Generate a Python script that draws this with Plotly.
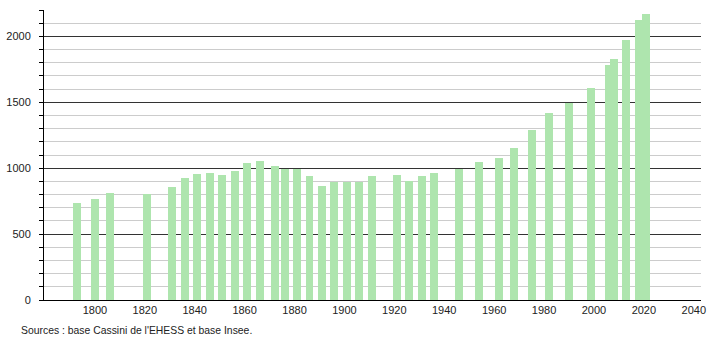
import plotly.graph_objects as go

years = [1793, 1800, 1806, 1821, 1831, 1836, 1841, 1846, 1851, 1856, 1861, 1866,
         1872, 1876, 1881, 1886, 1891, 1896, 1901, 1906, 1911, 1921, 1926, 1931,
         1936, 1946, 1954, 1962, 1968, 1975, 1982, 1990, 1999, 2006, 2008, 2013,
         2018, 2021]
population = [736, 769, 815, 807, 855, 929, 959, 967, 947, 975, 1041, 1051,
              1013, 997, 997, 937, 868, 893, 893, 893, 937, 947, 906, 937,
              967, 992, 1048, 1079, 1155, 1287, 1416, 1497, 1607, 1784, 1827, 1970,
              2124, 2168]
x_ticks = [1800, 1820, 1840, 1860, 1880, 1900, 1920, 1940, 1960, 1980, 2000, 2020, 2040]
y_ticks = [0, 500, 1000, 1500, 2000]
source_text = "Sources : base Cassini de l'EHESS et base Insee."

fig = go.Figure()
fig.add_trace(go.Bar(
    x=years, y=population, width=3.2,
    marker=dict(color="#aee5ae", line=dict(width=0)),
    hoverinfo="x+y",
))

font = dict(family="Liberation Sans, Arial, sans-serif", size=11, color="#222")

fig.update_layout(
    width=710, height=340,
    margin=dict(l=44, r=9, t=10, b=40),
    paper_bgcolor="white", plot_bgcolor="white",
    showlegend=False,
    font=font,
    bargap=0,
    xaxis=dict(
        range=[1779.6, 2042.9],
        tickvals=x_ticks,
        ticks="", showgrid=False, zeroline=False,
        showline=True, linecolor="#000", linewidth=1,
        tickfont=font,
        ticklabelstandoff=0,
        automargin=False,
    ),
    yaxis=dict(
        range=[0, 2200],
        tickvals=y_ticks,
        ticks="outside", ticklen=4, tickcolor="#000", tickwidth=1,
        showgrid=True, gridcolor="#333", gridwidth=1,
        zeroline=False,
        showline=True, linecolor="#000", linewidth=1,
        tickfont=font,
        ticklabelstandoff=6,
        automargin=False,
        minor=dict(dtick=100, tick0=0, showgrid=True, gridcolor="#cccccc",
                   gridwidth=1, ticks="outside", ticklen=4, tickcolor="#000"),
    ),
    annotations=[dict(
        text=source_text, xref="paper", yref="paper",
        x=(19 - 44) / 657, y=(300 - 330) / 290,
        xanchor="left", yanchor="middle", showarrow=False,
        font=dict(family="Liberation Sans, Arial, sans-serif", size=10.4, color="#222"),
    )],
)

fig.write_html("out.html")
